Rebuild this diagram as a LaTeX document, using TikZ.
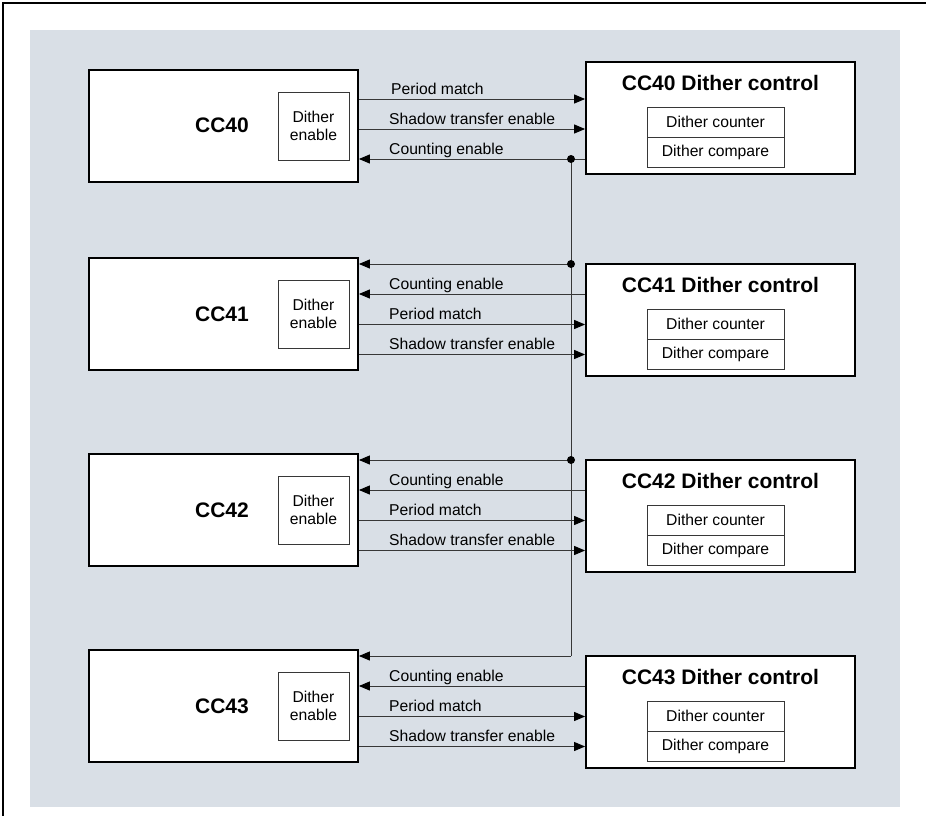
\documentclass[tikz,border=0pt]{standalone}
\usepackage{fontspec}
\setmainfont{Liberation Sans}
\usetikzlibrary{arrows.meta,calc}
\definecolor{bg}{RGB}{217,223,230}
\definecolor{ln}{RGB}{55,55,55}
\begin{document}
\begin{tikzpicture}[x=1pt,y=-1pt,
  font=\fontsize{15.7}{18.5}\selectfont,
  ccbox/.style={draw=black,line width=1.8pt,fill=white,minimum width=269pt,minimum height=112pt,inner sep=0pt},
  ttl/.style={font=\fontsize{21}{24}\selectfont\bfseries,inner sep=0pt},
  dith/.style={draw=ln,line width=0.9pt,fill=white,minimum width=71pt,minimum height=68pt,align=center,inner sep=0pt},
  sub/.style={draw=ln,line width=0.9pt,fill=white,minimum width=137pt,minimum height=30pt,inner sep=0pt},
  lbl/.style={anchor=base west,inner sep=0pt},
  wire/.style={draw=ln,line width=1pt},
  sig/.style={wire,-{Triangle[length=11pt,width=9pt,color=black,fill=black]}},
  jdot/.style={fill=black}
]
\useasboundingbox (0,0) rectangle (926,816);
\fill[bg] (30,30) rectangle (900,807);
\draw[line width=1.5pt] (3,816) -- (3,3) -- (926,3);

% ---- CC40 group
\node[ccbox] (b0) at (223.5,126) {};
\node[ttl] (b0t) at (222,125) {CC40};
\node[dith] (d0) at (313.5,126) {Dither\\enable};
\node[ccbox] (c0) at (720.5,118) {};
\node[ttl] (c0t) at (720.5,83) {CC40 Dither control};
\node[sub] (c0a) at (715.5,122) {Dither counter};
\node[sub] (c0b) at (715.5,152) {Dither compare};
\draw[sig] (b0.east |- 0,99) -- (c0.west |- 0,99);
\node[lbl] (l0p) at (391,94) {Period match};
\draw[sig] (b0.east |- 0,129) -- (c0.west |- 0,129);
\node[lbl] (l0s) at (389,124) {Shadow transfer enable};
\draw[sig] (c0.west |- 0,159) -- (b0.east |- 0,159);
\node[lbl] (l0c) at (389,154) {Counting enable};

% ---- CC41..CC43 groups
\foreach \i/\L/\T in {1/314/264, 2/510/460, 3/706/656} {
  \node[ccbox] (b\i) at (223.5,\L) {};
  \node[ttl] (b\i t) at (222,\L) {CC4\i};
  \node[dith] (d\i) at (313.5,\L) {Dither\\enable};
  \node[ccbox] (c\i) at (720.5,\T+56) {};
  \node[ttl] (c\i t) at (720.5,\T+21) {CC4\i\ Dither control};
  \node[sub] (c\i a) at (715.5,\T+60) {Dither counter};
  \node[sub] (c\i b) at (715.5,\T+90) {Dither compare};
  \draw[sig] (c\i.west |- 0,\T+30) -- (b\i.east |- 0,\T+30);
  \node[lbl] (l\i c) at (389,\T+25) {Counting enable};
  \draw[sig] (b\i.east |- 0,\T+60.5) -- (c\i.west |- 0,\T+60.5);
  \node[lbl] (l\i p) at (389,\T+55.5) {Period match};
  \draw[sig] (b\i.east |- 0,\T+90.5) -- (c\i.west |- 0,\T+90.5);
  \node[lbl] (l\i s) at (389,\T+85.5) {Shadow transfer enable};
}

% ---- counting enable bus
\coordinate (j0) at (571,159);
\coordinate (j1) at (571,264);
\coordinate (j2) at (571,460);
\coordinate (j3) at (571,656);
\draw[wire] (j0) -- (j3);
\draw[sig] (j1) -- (b1.east |- j1);
\draw[sig] (j2) -- (b2.east |- j2);
\draw[sig] (j3) -- (b3.east |- j3);
\fill[jdot] (j0) circle (4pt);
\fill[jdot] (j1) circle (4pt);
\fill[jdot] (j2) circle (4pt);
\end{tikzpicture}
\end{document}
